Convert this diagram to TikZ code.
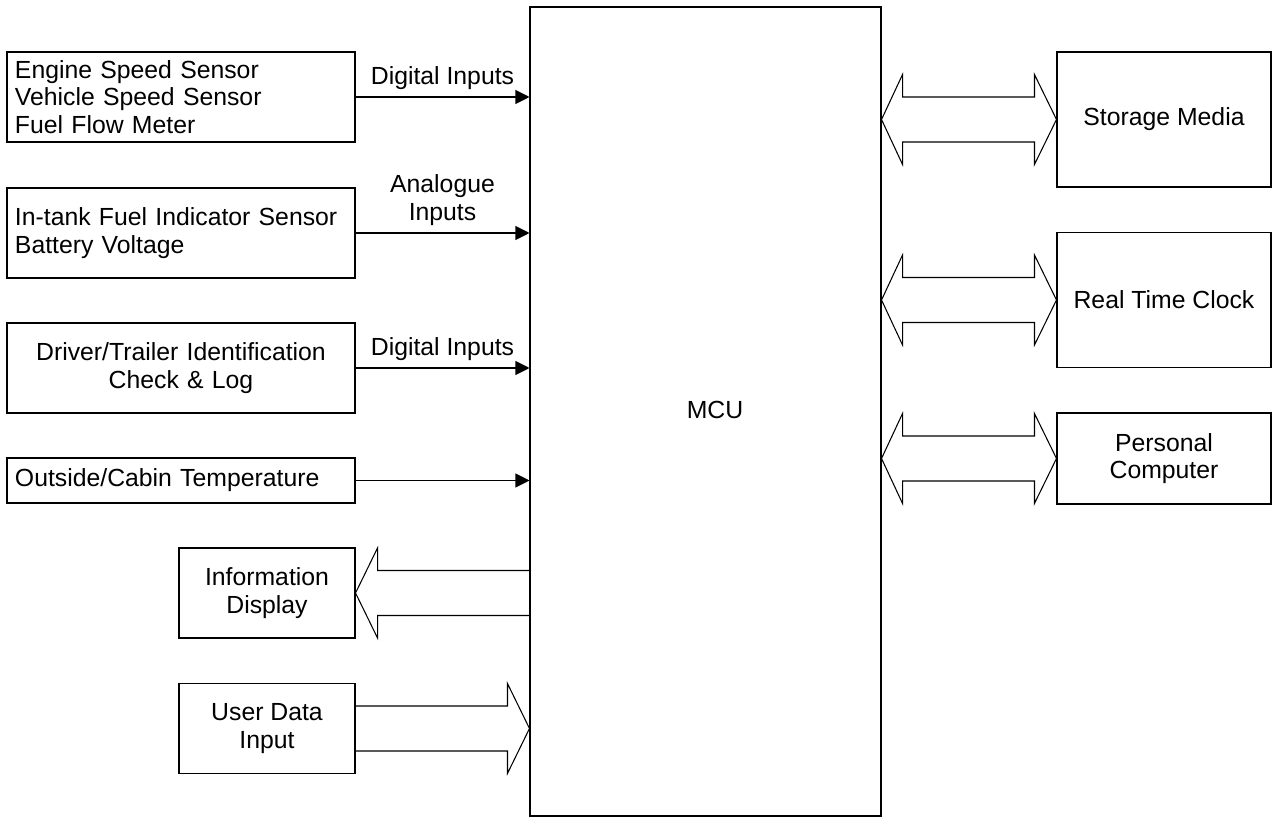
\documentclass[tikz,border=0pt]{standalone}
\usepackage{fontspec}
\setmainfont{Liberation Sans}
\usetikzlibrary{arrows.meta,positioning,calc}
\tikzset{
  >={Triangle[length=2.8mm,width=2.8mm]},
  mcubox/.style={draw,line width=0.6pt,minimum width=70.2mm,minimum height=161.8mm},
  srcbox/.style={draw,line width=0.6pt,minimum width=69.6mm,minimum height=18mm,text width=66.4mm,inner xsep=1.6mm,align=left},
  iobox/.style={draw,line width=0.6pt,minimum width=35.2mm,minimum height=18mm,align=center},
  devbox/.style={draw,line width=0.6pt,minimum width=42.8mm,minimum height=27mm,align=center},
  sig/.style={->,line width=0.6pt},
  sigtag/.style={above=1.4mm,align=center,inner sep=0pt},
  bus/.style={draw,line width=0.6pt,line join=miter}
}

\begin{document}
\begin{tikzpicture}[x=0.2mm,y=-0.2mm,font=\fontsize{14.1pt}{15.8pt}\selectfont]
  \useasboundingbox (0,0) rectangle (1276,820);

  % controller
  \node[mcubox] (mcu) at (705.5,411.5) {};
  \node (mcuname) at ($(mcu.center)+(9.5,-1.5)$) {MCU};

  % sensors and inputs
  \node[srcbox] (eng) at (181,97) {Engine Speed Sensor\\Vehicle Speed Sensor\\Fuel Flow Meter};
  \node[srcbox] (tank) at (181,233) {In-tank Fuel Indicator Sensor\\Battery Voltage};
  \node[srcbox,align=center] (drv) at (181,368) {Driver/Trailer Identification\\Check \& Log};
  \node[srcbox,minimum height=9mm] (temp) at (181,480.5) {Outside/Cabin Temperature};
  \node[iobox] (disp) at (267,593) {Information\\Display};
  \node[iobox] (user) at (267,728.5) {User Data\\Input};

  % peripherals
  \node[devbox] (store) at (1164,119.5) {Storage Media};
  \node[devbox] (clock) at (1164,300) {Real Time Clock};
  \node[devbox,minimum height=18.2mm] (pc) at (1164,458.5) {Personal\\Computer};

  \foreach \src/\tag in {eng/{Digital Inputs},tank/{Analogue\\Inputs},drv/{Digital Inputs}}
    \draw[sig] (\src.east) -- (\src.east -| mcu.west) node[midway,sigtag] (\src tag) {\tag};
  \draw[sig] (temp.east) -- (temp.east -| mcu.west);

  % wide arrows
  \draw[bus] ($(mcu.west |- disp.east)+(0,-22.5)$) -- ($(disp.east)+(22,-22.5)$) -- ++(0,-22.5)
    -- (disp.east) -- ($(disp.east)+(22,45)$) -- ++(0,-22.5) -- ($(mcu.west |- disp.east)+(0,22.5)$);
  \draw[bus] ($(user.east)+(0,-22.5)$) -- ($(mcu.west |- user.east)+(-22,-22.5)$) -- ++(0,-22.5)
    -- (mcu.west |- user.east) -- ($(mcu.west |- user.east)+(-22,45)$) -- ++(0,-22.5) -- ($(user.east)+(0,22.5)$);
  \foreach \dev in {store,clock,pc}
    \draw[bus] (mcu.east |- \dev.west) -- ++(21,-45) -- ++(0,22.5) -- ($(\dev.west)+(-22,-22.5)$) -- ++(0,-22.5)
      -- (\dev.west) -- ++(-22,45) -- ++(0,-22.5) -- ($(mcu.east |- \dev.west)+(21,22.5)$) -- ++(0,22.5) -- cycle;
\end{tikzpicture}
\end{document}
